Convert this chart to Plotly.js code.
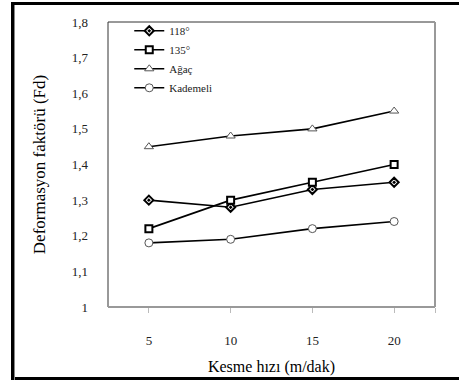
<!DOCTYPE html>
<html>
<head>
<meta charset="utf-8">
<script src="https://cdn.plot.ly/plotly-3.0.1.min.js"></script>
<style>
html,body{margin:0;padding:0;background:#fff;}
#wrap{position:relative;width:459px;height:385px;}
#chart{position:absolute;left:0;top:0;width:459px;height:385px;}
#frame{position:absolute;left:11px;top:2px;width:448px;height:378px;border-top:3px solid #000;border-bottom:3px solid #000;border-left:3px solid #000;box-sizing:border-box;pointer-events:none;}
#frame2{position:absolute;left:14px;top:5px;width:1px;height:375px;background:#888;pointer-events:none;}
</style>
</head>
<body>
<div id="wrap">
<div id="chart"></div>
<div id="frame"></div>
<div id="frame2"></div>
</div>
<script>
const speeds = [5, 10, 15, 20];
const s118 = [1.30, 1.28, 1.33, 1.35];
const s135 = [1.22, 1.30, 1.35, 1.40];
const agac = [1.45, 1.48, 1.50, 1.55];
const kademeli = [1.18, 1.19, 1.22, 1.24];
const names = ['118°', '135°', 'Ağaç', 'Kademeli'];
const xTickVals = [5, 10, 15, 20, 22.5];
const xTickText = ['5', '10', '15', '20', ''];

const font = 'Liberation Serif, Times New Roman, serif';
function tr(y, name, symbol, msize, mcol, mw) {
  return {
    x: speeds, y: y, name: name, type: 'scatter', mode: 'lines+markers',
    line: {color: '#000', width: 1.6},
    marker: {symbol: symbol, size: msize, color: '#fff', line: {color: mcol, width: mw}}
  };
}
const data = [
  tr(s118, names[0], 'diamond-dot', 7, '#000', 2),
  tr(s135, names[1], 'square', 7, '#000', 2),
  tr(agac, names[2], 'triangle-up', 8, '#555', 1),
  tr(kademeli, names[3], 'circle', 8, '#555', 1)
];
const layout = {
  width: 459, height: 385,
  margin: {l: 108, r: 24, t: 22, b: 78},
  paper_bgcolor: '#fff', plot_bgcolor: '#fff',
  separators: ',.',
  font: {family: font, size: 12, color: '#000'},
  showlegend: true,
  legend: {x: 0.065, y: 1.02, xanchor: 'left', yanchor: 'top', bgcolor: 'rgba(0,0,0,0)',
           font: {family: font, size: 11, color: '#222'}, tracegroupgap: 0, itemwidth: 30},
  xaxis: {
    range: [2.5, 22.5], tickvals: xTickVals, ticktext: xTickText,
    showgrid: false, zeroline: false, showline: false,
    ticks: 'outside', ticklen: 5, tickcolor: '#bbb', tickwidth: 1,
    ticklabelstandoff: 16,
    tickfont: {family: font, size: 13, color: '#222'},
    title: {text: 'Kesme hızı (m/dak)', font: {family: font, size: 16}, standoff: 14}
  },
  yaxis: {
    range: [1, 1.8], dtick: 0.1, tick0: 1,
    showgrid: false, zeroline: false, showline: false,
    ticks: '', ticklabelstandoff: 19,
    tickfont: {family: font, size: 13, color: '#222'},
    title: {text: 'Deformasyon faktörü (Fd)', font: {family: font, size: 17}, standoff: 21}
  },
  shapes: [
    {type: 'line', xref: 'paper', yref: 'paper', x0: 0, x1: 1, y0: 1, y1: 1, line: {color: '#333', width: 1}},
    {type: 'line', xref: 'paper', yref: 'paper', x0: 0, x1: 0, y0: 0, y1: 1, line: {color: '#333', width: 1}},
    {type: 'line', xref: 'paper', yref: 'paper', x0: 0, x1: 1, y0: 0, y1: 0, line: {color: '#999', width: 2}},
    {type: 'line', xref: 'paper', yref: 'paper', x0: 1, x1: 1, y0: 0, y1: 1, line: {color: '#999', width: 2}}
  ]
};
Plotly.newPlot('chart', data, layout, {displayModeBar: false, staticPlot: true});
</script>
</body>
</html>
